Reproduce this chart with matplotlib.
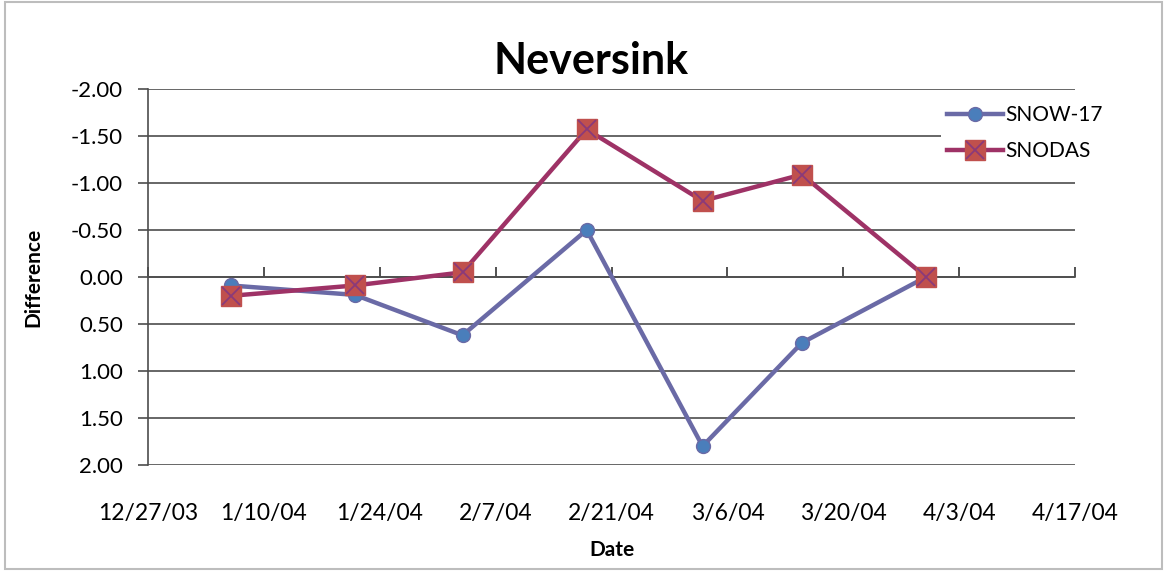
import datetime as dt
import matplotlib
matplotlib.use("Agg")
import matplotlib.pyplot as plt
import matplotlib.dates as mdates
from matplotlib import font_manager
from matplotlib.legend_handler import HandlerTuple
from matplotlib.patches import Rectangle

# data (differences, axis is inverted)
dates = [dt.date(2004, 1, 6), dt.date(2004, 1, 21), dt.date(2004, 2, 3),
         dt.date(2004, 2, 18), dt.date(2004, 3, 3), dt.date(2004, 3, 15),
         dt.date(2004, 3, 30)]
snow17 = [0.09, 0.19, 0.62, -0.50, 1.80, 0.70, 0.00]
snodas = [0.20, 0.09, -0.05, -1.57, -0.81, -1.09, 0.00]

x_start = dt.date(2003, 12, 27)
x_end = dt.date(2004, 4, 17)
y_ticks = [-2.0, -1.5, -1.0, -0.5, 0.0, 0.5, 1.0, 1.5, 2.0]

FONT = ['Lato', 'DejaVu Sans']
names = {f.name for f in font_manager.fontManager.ttflist}
NARROW = ['Liberation Sans Narrow', 'DejaVu Sans'] if 'Liberation Sans Narrow' in names else FONT
plt.rcParams['font.family'] = FONT

SNOW_LINE = '#6a6aa6'
SNOW_FACE = '#4a7ebb'
SNODAS_LINE = '#9e3266'
SNODAS_FACE = '#c0504d'

fig = plt.figure(figsize=(11.67, 5.71), dpi=100)
ax = fig.add_axes([0.1268, 0.1856, 0.7944, 0.6585])

l1, = ax.plot(dates, snow17, color=SNOW_LINE, lw=3.2, marker='o', ms=10,
              mfc=SNOW_FACE, mec=SNOW_LINE, mew=1, zorder=3)
l2, = ax.plot(dates, snodas, color=SNODAS_LINE, lw=3.2, marker='s', ms=15,
              mfc=SNODAS_FACE, mec=SNODAS_FACE, zorder=4)
l3, = ax.plot(dates, snodas, ls='none', marker='x', ms=13, mew=1.3,
              color='#8a3a7a', zorder=5)

ax.set_ylim(2.0, -2.0)
ax.set_yticks(y_ticks)
ax.yaxis.set_major_formatter(plt.FuncFormatter(lambda v, p: f'{v:.2f}'))
ax.set_xlim(x_start, x_end)
ticks = mdates.drange(dt.datetime(2003, 12, 27), dt.datetime(2004, 4, 18), dt.timedelta(days=14))
ax.set_xticks(ticks)

def fmt(v, p):
    d = mdates.num2date(v)
    return f'{d.month}/{d.day}/{d.strftime("%y")}'

ax.yaxis.grid(True, color='#4d4d4d', lw=1.2)
ax.set_axisbelow(True)

for s in ['top', 'right']:
    ax.spines[s].set_visible(False)
ax.spines['left'].set_color('#4d4d4d')
ax.spines['left'].set_linewidth(1.2)
ax.spines['bottom'].set_position(('data', 0))
ax.spines['bottom'].set_color('#4d4d4d')
ax.spines['bottom'].set_linewidth(1.2)
ax.tick_params(axis='x', direction='in', length=7, width=1.2, color='#333333',
               labelbottom=False)
ax.tick_params(axis='y', direction='out', length=7, width=1.2, color='#4d4d4d',
               labelsize=16, pad=11)

sec = ax.secondary_xaxis('bottom')
sec.set_xticks(ticks)
sec.xaxis.set_major_formatter(plt.FuncFormatter(fmt))
sec.tick_params(length=0, pad=27, labelsize=16.5)
sec.spines['bottom'].set_visible(False)
for t in sec.get_xticklabels():
    t.set_family(NARROW)
sec.set_xlabel('Date', fontsize=15, fontweight='bold', labelpad=12)

ax.set_ylabel('Difference', fontsize=15, fontweight='bold', labelpad=20)
fig.text(0.506, 0.893, 'Neversink', ha='center', va='center',
         fontsize=31, fontweight='bold')

leg = ax.legend([l1, (l2, l3)], ['SNOW-17', 'SNODAS'],
                handler_map={tuple: HandlerTuple(ndivide=1)},
                loc='upper left', bbox_to_anchor=(0.797, 0.845),
                bbox_transform=fig.transFigure, fontsize=15, frameon=True,
                framealpha=1, facecolor='white', edgecolor='none',
                handlelength=2.7, handletextpad=0.1, labelspacing=0.75,
                borderpad=0.3, fancybox=False)

fig.patches.append(Rectangle((0.004, 0.004), 0.992, 0.992, transform=fig.transFigure,
                             fill=False, edgecolor='#bdbdbd', lw=1.5))

fig.savefig('out.png', dpi=100)
